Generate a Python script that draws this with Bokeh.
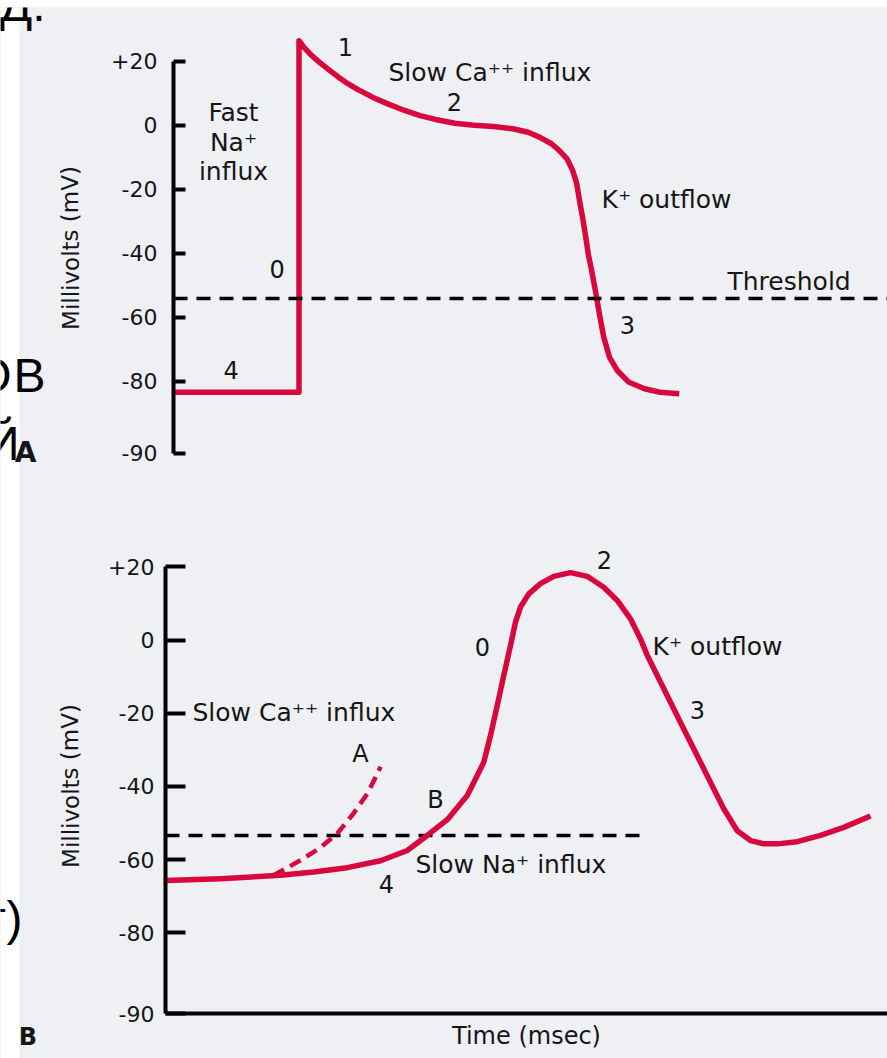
from bokeh.plotting import figure
from bokeh.models import (Range1d, FixedTicker, CustomJSTickFormatter, Label,
                          Span, Spacer)
from bokeh.layouts import column, row
from bokeh.core.properties import value
from bokeh.embed import file_html
from bokeh.resources import INLINE

# ---------------- data ----------------
# Panel A: fast-response action potential (ventricular muscle), mV vs msec
a_time = [0, 50.2, 50.2, 52.1, 55.2, 58.3, 62.2, 66.0, 69.9, 73.8, 80.0, 86.2,
          92.4, 98.6, 104.8, 112.5, 120.2, 128.0, 135.7, 141.9, 146.6, 151.2,
          154.3, 157.4, 159.7, 161.3, 162.4, 163.6, 164.7, 165.9, 167.5, 169.0,
          170.6, 172.1, 174.4, 177.5, 182.2, 188.4, 194.6, 202.3]
a_mv = [-83.4, -83.4, 26.4, 24.4, 21.8, 19.7, 17.3, 15.0, 12.9, 11.1, 8.6, 6.5,
        4.6, 3.0, 1.8, 0.6, 0.0, -0.4, -1.1, -2.2, -3.8, -5.8, -7.9, -10.5,
        -14.2, -18.3, -23.5, -28.7, -33.9, -40.2, -46.4, -52.7, -60.0, -66.2,
        -72.5, -76.6, -80.3, -82.3, -83.4, -83.9]
a_threshold = -54.1

# Panel B: slow-response action potential (SA node)
b_time = [0, 22, 46, 59.3, 72.7, 86, 96.7, 104.7, 112.7, 120.7, 124.7, 127.3,
          130, 132.7, 135.3, 138, 140, 142, 145.3, 150, 155.3, 162, 168.7,
          175.3, 180.7, 186, 190, 192.7, 196.7, 202, 207.3, 212.7, 218, 223.3,
          228.7, 234, 239.3, 244.7, 252.7, 262, 271.3, 282]
b_mv = [-65.7, -65.2, -64.3, -63.4, -62.2, -60.3, -57.5, -53.4, -49.1, -42.5,
        -37.0, -33.4, -26.1, -17.9, -9.7, -1.5, 4.9, 9.0, 12.6, 15.4, 17.4, 18.4,
        17.4, 14.4, 10.8, 5.8, 0.3, -4.2, -9.7, -17.0, -24.3, -31.6, -38.9,
        -46.1, -52.1, -54.8, -55.7, -55.7, -55.1, -53.4, -51.2, -48.1]
b_alt_time = [43.2, 54, 62, 68.8, 75.2, 80.8, 84.8, 86]
b_alt_mv = [-64.3, -60.2, -56.7, -52.8, -47.4, -41.9, -36.5, -34.6]
b_threshold = -53.4
b_threshold_end = 192

tick_values = [20, 0, -20, -40, -60, -80]

BG = "#eff0f4"
RED = "#d8083f"
INK = "#161616"
FONT = "DejaVu Sans"
MID = 0.36  # em distance from baseline to the middle of the text box


def lab(p, x, y_base, text, px_per_unit, size=25, align="left"):
    # y_base is the text baseline in data units; placed with a middle baseline
    y = y_base + MID * size / px_per_unit
    p.add_layout(Label(x=x, y=y, text=text, text_font=FONT,
                       text_font_size=f"{size}px", text_align=align,
                       text_baseline="middle", text_color=INK))


def style_yaxis(p, bottom_v, tick_in, standoff):
    ax = p.yaxis[0]
    ax.ticker = FixedTicker(ticks=tick_values + [bottom_v])
    ax.formatter = CustomJSTickFormatter(code="""
        if (tick == 20) { return '+20'; }
        if (tick < -95) { return '-90'; }
        return tick.toFixed(0);
    """)
    ax.bounds = (bottom_v, 20)
    ax.axis_line_width = 4
    ax.axis_line_color = "black"
    ax.major_tick_line_width = 4
    ax.major_tick_line_color = "black"
    ax.major_tick_in = tick_in
    ax.major_tick_out = 0
    ax.minor_tick_line_color = None
    ax.major_label_text_font = FONT
    ax.major_label_text_font_size = "22px"
    ax.major_label_text_color = INK
    ax.major_label_standoff = standoff


# ---------------- panel A ----------------
SA = 3.202  # px per mV in panel A
pa = figure(width=792, height=498, x_range=Range1d(0, 285.6),
            y_range=Range1d(-118.77, 36.76), output_backend="svg",
            toolbar_location=None, x_axis_location=None,
            min_border_left=78, min_border_right=0, min_border_top=0,
            min_border_bottom=0, background_fill_color=BG,
            border_fill_color=BG, outline_line_color=None)
pa.grid.visible = False
style_yaxis(pa, -102.5, 12, 16)

pa.add_layout(Span(location=a_threshold, dimension="width", line_color="black",
                   line_width=3.5, line_dash="14 9"))
pa.line(a_time, a_mv, line_color=RED, line_width=5.5, line_join="round")

lab(pa, 24, 1.25, "Fast", SA, align="center")
lab(pa, 24, -8.1, "Na\u207a", SA, align="center")
lab(pa, 24, -17.3, "influx", SA, align="center")
lab(pa, 41.5, -47.6, "0", SA, size=24, align="center")
lab(pa, 23.1, -79.1, "4", SA, size=24, align="center")
lab(pa, 68.8, 21.8, "1", SA, size=24, align="center")
lab(pa, 86, 13.6, "Slow Ca\u207a\u207a influx", SA)
lab(pa, 112.4, 4.6, "2", SA, size=24, align="center")
lab(pa, 171.2, -26.0, "K\u207a outflow", SA)
lab(pa, 221.6, -51.6, "Threshold", SA)
lab(pa, 181.6, -65.1, "3", SA, size=24, align="center")

# ---------------- panel B ----------------
SB = 3.66  # px per mV in panel B
pb = figure(width=792, height=553, x_range=Range1d(0, 288.8),
            y_range=Range1d(-102.05, 36.75), output_backend="svg",
            toolbar_location=None, min_border_left=70, min_border_right=0,
            min_border_top=0, min_border_bottom=45, background_fill_color=BG,
            border_fill_color=BG, outline_line_color=None)
pb.grid.visible = False
style_yaxis(pb, -102.05, 20, 11)
xa = pb.xaxis[0]
xa.ticker = FixedTicker(ticks=[])
xa.axis_line_width = 4
xa.axis_line_color = "black"
xa.major_tick_line_color = None
xa.minor_tick_line_color = None
xa.major_label_standoff = 0
xa.axis_label = "Time (msec)"
xa.axis_label_text_font = FONT
xa.axis_label_text_font_size = "24px"
xa.axis_label_text_font_style = "normal"
xa.axis_label_text_color = INK
xa.axis_label_standoff = 8

pb.line([0, b_threshold_end], [b_threshold, b_threshold], line_color="black",
        line_width=3.5, line_dash="14 9")
pb.line(b_alt_time, b_alt_mv, line_color=RED, line_width=4.5, line_dash="12 7")
pb.line(b_time, b_mv, line_color=RED, line_width=5.5, line_join="round")

lab(pb, 175.6, 19.5, "2", SB, size=24, align="center")
lab(pb, 126.8, -4.2, "0", SB, size=24, align="center")
lab(pb, 194.8, -4.2, "K\u207a outflow", SB)
lab(pb, 212.8, -21.5, "3", SB, size=24, align="center")
lab(pb, 10.8, -22.3, "Slow Ca\u207a\u207a influx", SB)
lab(pb, 78, -33.5, "A", SB, size=24, align="center")
lab(pb, 108, -46.0, "B", SB, size=24, align="center")
lab(pb, 100, -63.8, "Slow Na\u207a influx", SB)
lab(pb, 88.4, -69.0, "4", SB, size=24, align="center")

# ---------------- left strip (axis titles, panel letters, page fragments) ----
side = figure(width=95, height=1051, x_range=Range1d(0, 95),
              y_range=Range1d(1058, 7), output_backend="svg",
              toolbar_location=None, x_axis_location=None, y_axis_location=None,
              min_border_left=0, min_border_right=0, min_border_top=0,
              min_border_bottom=0, background_fill_color=BG,
              border_fill_color=BG, outline_line_color=None)
side.grid.visible = False
side.quad(left=[0], right=[19], top=[7], bottom=[1058], fill_color="white",
          line_color=None)


def side_text(x, y_base, text, size, font=FONT, style="normal", align="center",
              color=INK, angle=0.0, centered=False):
    y = y_base if centered else y_base - MID * size
    side.text(x=[x], y=[y], text=[text], text_font=value(font),
              text_font_size=value(f"{size}px"), text_font_style=style,
              text_align=align, text_baseline="middle", angle=angle,
              text_color=color)


side_text(70, 247.5, "Millivolts (mV)", 23, angle=1.5708, centered=True)
side_text(70, 785.5, "Millivolts (mV)", 23, angle=1.5708, centered=True)
side_text(25, 462, "A", 28, style="bold")
side_text(27.5, 1045, "B", 24, style="bold")
side_text(45, 21, "Д.", 48, font="Liberation Sans", align="right", color="black")
side_text(11, 392, "О", 48, font="Liberation Sans", align="right", color="black")
side_text(45, 392, "В", 48, font="Liberation Sans", align="right", color="black")
side_text(19, 460, "Й", 48, font="Liberation Sans", align="right", color="black")
side_text(22, 935, "г)", 48, font="Liberation Sans", align="right",
          color="black")

body = row(side, column(row(pa), row(pb), styles={"background-color": BG}),
           styles={"background-color": BG})
layout = column(Spacer(height=7, width=887), body)
open("out.html", "w").write(file_html(layout, INLINE))
